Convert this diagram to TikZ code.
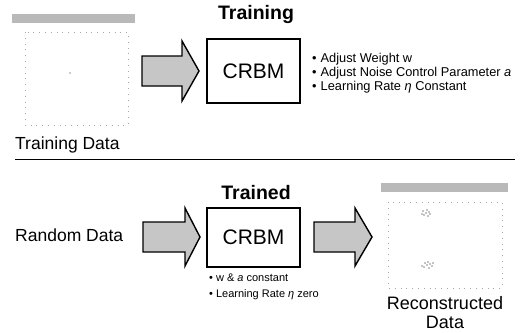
\documentclass[tikz,border=0pt]{standalone}
\usepackage{fontspec}
\setmainfont{Liberation Sans}
\begin{document}
\begin{tikzpicture}[x=1pt,y=1pt,yscale=-1,xscale=1,
  blockarrow/.style={draw=black,line width=1.4pt,fill=gray!45,line join=miter},
  crbmbox/.style={draw=black,line width=1.5pt,fill=white,minimum width=93pt,minimum height=62pt,inner sep=0pt,font=\fontsize{21}{24}\selectfont},
  titletext/.style={inner sep=0pt,font=\bfseries\fontsize{19.5}{22}\selectfont},
  datatext/.style={inner sep=0pt,font=\fontsize{17.5}{20}\selectfont},
  bullettext/.style={inner sep=0pt,anchor=base west,font=\fontsize{12.8}{14}\selectfont},
  smallbullet/.style={inner sep=0pt,anchor=base west,font=\fontsize{11}{13}\selectfont},
  headbar/.style={fill=gray!55},
  plotframe/.style={draw=gray!70,line width=0.6pt,dash pattern=on 0.8pt off 5pt}]
\useasboundingbox (0,0) rectangle (524,332);

%Shape: Rectangle (training data plot)
\fill[headbar] (12,14) rectangle (135,23);
\draw[plotframe] (25,32) rectangle (128,125);
\fill[gray!80] (70,73) circle (0.8);

%Text
\node[titletext] (ttlTrain) at (256,15) {Training};
\node[datatext,anchor=base west] (trainData) at (15,149.5) {Training Data};

%Shape: Block Arrow
\draw[blockarrow] (142,56) -- (182,56) -- (182,41) -- (199,71) -- (182,101) -- (182,86) -- (142,86) -- cycle;

%Shape: Rectangle
\node[crbmbox,minimum height=64pt] (crbmTrain) at (253.5,71) {CRBM};

%Text
\node[bullettext] (bulWeight) at (312,62.5) {\textbullet\hspace{4pt}Adjust Weight w};
\node[bullettext] (bulNoise) at (312,76.5) {\textbullet\hspace{4pt}Adjust Noise Control Parameter \textit{a}};
\node[bullettext] (bulRate) at (312,90.5) {\textbullet\hspace{4pt}Learning Rate \textit{η} Constant};

%Straight Lines
\draw[line width=0.9pt] (15,159) -- (515,159);

%Text
\node[titletext] (ttlTrained) at (256,193) {Trained};
\node[datatext,anchor=base west] (randData) at (15,241.5) {Random Data};

%Shape: Block Arrow
\draw[blockarrow] (143,222) -- (185,222) -- (185,208) -- (200,237) -- (185,266) -- (185,252) -- (143,252) -- cycle;

%Shape: Rectangle
\node[crbmbox,minimum height=59pt] (crbmTrained) at (253.5,237.5) {CRBM};

%Text
\node[smallbullet] (bulConst) at (209,281) {\textbullet\hspace{3pt}w \& \textit{a} constant};
\node[smallbullet] (bulZero) at (209,297) {\textbullet\hspace{3pt}Learning Rate \textit{η} zero};

%Shape: Block Arrow
\draw[blockarrow] (314,222) -- (355,222) -- (355,208) -- (372,237) -- (355,266) -- (355,252) -- (314,252) -- cycle;

%Shape: Rectangle (reconstructed data plot)
\fill[headbar] (381,183) rectangle (508,192);
\draw[plotframe] (388,202) rectangle (502,288);
\foreach \dx/\dy in {0/0,-3/-2,3/-1,-2/2,2/3,4/1,-4/1,1/-3}
  \fill (426+\dx,213+\dy) circle (0.7);
\foreach \dx/\dy in {0/0,-3/2,3/-1,-2/-2,2/3,5/1,-5/1,1/-3,6/-2}
  \fill (427+\dx,265+\dy) circle (0.7);

%Text
\node[datatext,align=center,font=\fontsize{18}{19}\selectfont] (recData) at (445,312.5) {Reconstructed\\Data};

\end{tikzpicture}
\end{document}
